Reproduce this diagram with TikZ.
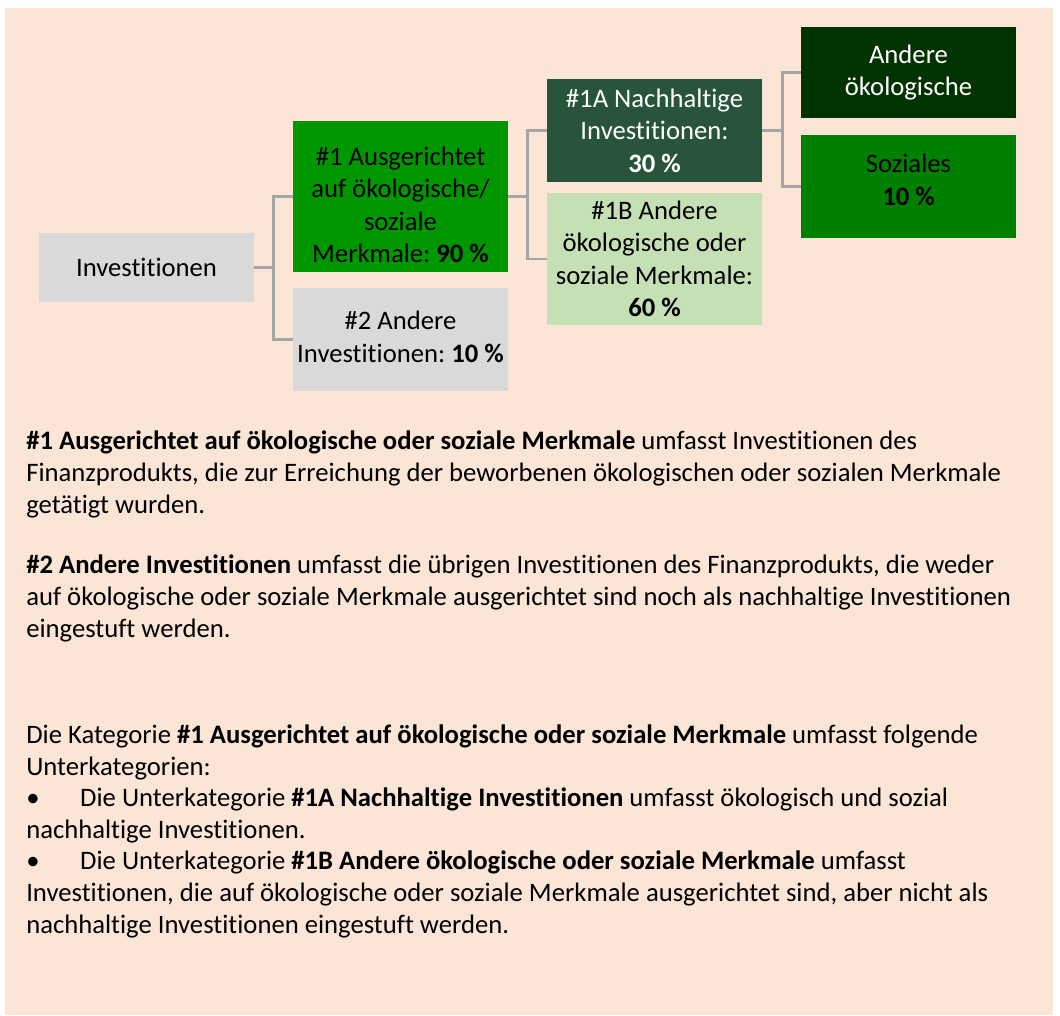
\documentclass[tikz,border=0pt]{standalone}
\usepackage{fontspec}
\setmainfont{Carlito}[Ligatures=NoCommon]

\definecolor{peach}{HTML}{FBE5D6}
\definecolor{boxGray}{HTML}{D9D9D9}
\definecolor{lineGray}{HTML}{A6A6A6}
\definecolor{greenOne}{HTML}{009600}
\definecolor{greenOneA}{HTML}{27543A}
\definecolor{greenOneB}{HTML}{C5E0B4}
\definecolor{greenOekol}{HTML}{003300}
\definecolor{greenSozial}{HTML}{008000}

\newcommand{\boxfont}{\fontsize{20}{24.4}\selectfont\frenchspacing}
\newcommand{\parafont}{\fontsize{20}{23.7}\selectfont\frenchspacing}
% extra room above the first line / below the last line of a box
\newcommand{\padtop}[1]{\raisebox{#1}{\vphantom{h}}}
\newcommand{\padbot}[1]{\rule[-#1]{0pt}{#1}}

\tikzset{
  box/.style={rectangle, minimum width=161.25pt, inner sep=0pt, align=center, font=\boxfont},
  conn/.style={draw=lineGray, line width=2pt},
  para/.style={anchor=base west, align=left, inner sep=0pt, font=\parafont}
}

\begin{document}
\begin{tikzpicture}[x=0.75pt,y=-0.75pt]
            \fill[white] (0,0) rectangle (1060,1016);
            \fill[peach] (5,8) rectangle (1053,1015);
            % boxes
            \node[box, fill=boxGray, minimum height=51.75pt] (inv) at (146.5,267.5) {Investitionen};
            \node[box, fill=greenOne, minimum height=113.25pt] (one) at (400.5,196.5) {\padtop{12.8pt}\#1 Ausgerichtet\\auf ökologische/\\soziale\\Merkmale: \textbf{90 \%}};
            \node[box, fill=boxGray, minimum height=77.25pt] (two) at (400.5,339.5) {\#2 Andere\\Investitionen: \textbf{10 \%}\padbot{4.5pt}};
            \node[box, fill=greenOneA, text=white, minimum height=77.25pt] (oneA) at (654.5,130.5) {\#1A Nachhaltige\\Investitionen:\\\textbf{30 \%}};
            \node[box, fill=greenOneB, minimum height=99pt] (oneB) at (654.5,259) {\#1B Andere\\ökologische oder\\soziale Merkmale:\\\textbf{60 \%}};
            \node[box, fill=greenOekol, text=white, minimum height=68.25pt] (oekol) at (908.5,72.5) {Andere\\ökologische};
            \node[box, fill=greenSozial, minimum height=77.25pt] (sozial) at (908.5,186.5) {Soziales\\\textbf{10 \%}\padbot{10.5pt}};
            % connectors
            \draw[conn] (inv.east) -- ++(19,0) |- (one.west);
            \draw[conn] (inv.east) -- ++(19,0) |- (two.west);
            \draw[conn] (one.east) -- ++(19,0) |- (oneA.west);
            \draw[conn] (one.east) -- ++(19,0) |- (oneB.west);
            \draw[conn] (oneA.east) -- ++(20,0) |- (oekol.west);
            \draw[conn] (oneA.east) -- ++(20,0) |- (sozial.west);
            % text below (placed at the baseline of the last line)
            \node[para] (paraOne) at (26,513) {\textbf{\#1 Ausgerichtet auf ökologische oder soziale Merkmale} umfasst Investitionen des\\Finanzprodukts, die zur Erreichung der beworbenen ökologischen oder sozialen Merkmale\\getätigt wurden.};
            \node[para] (paraTwo) at (26,637) {\textbf{\#2 Andere Investitionen} umfasst die übrigen Investitionen des Finanzprodukts, die weder\\auf ökologische oder soziale Merkmale ausgerichtet sind noch als nachhaltige Investitionen\\eingestuft werden.};
            \node[para] (paraThree) at (26,933) {Die Kategorie \textbf{\#1 Ausgerichtet auf ökologische oder soziale Merkmale} umfasst folgende\\Unterkategorien:\\\makebox[40.5pt][l]{•}Die Unterkategorie \textbf{\#1A Nachhaltige Investitionen} umfasst ökologisch und sozial\\nachhaltige Investitionen.\\\makebox[40.5pt][l]{•}Die Unterkategorie \textbf{\#1B Andere ökologische oder soziale Merkmale} umfasst\\Investitionen, die auf ökologische oder soziale Merkmale ausgerichtet sind, aber nicht als\\nachhaltige Investitionen eingestuft werden.};
        \end{tikzpicture}
\end{document}
